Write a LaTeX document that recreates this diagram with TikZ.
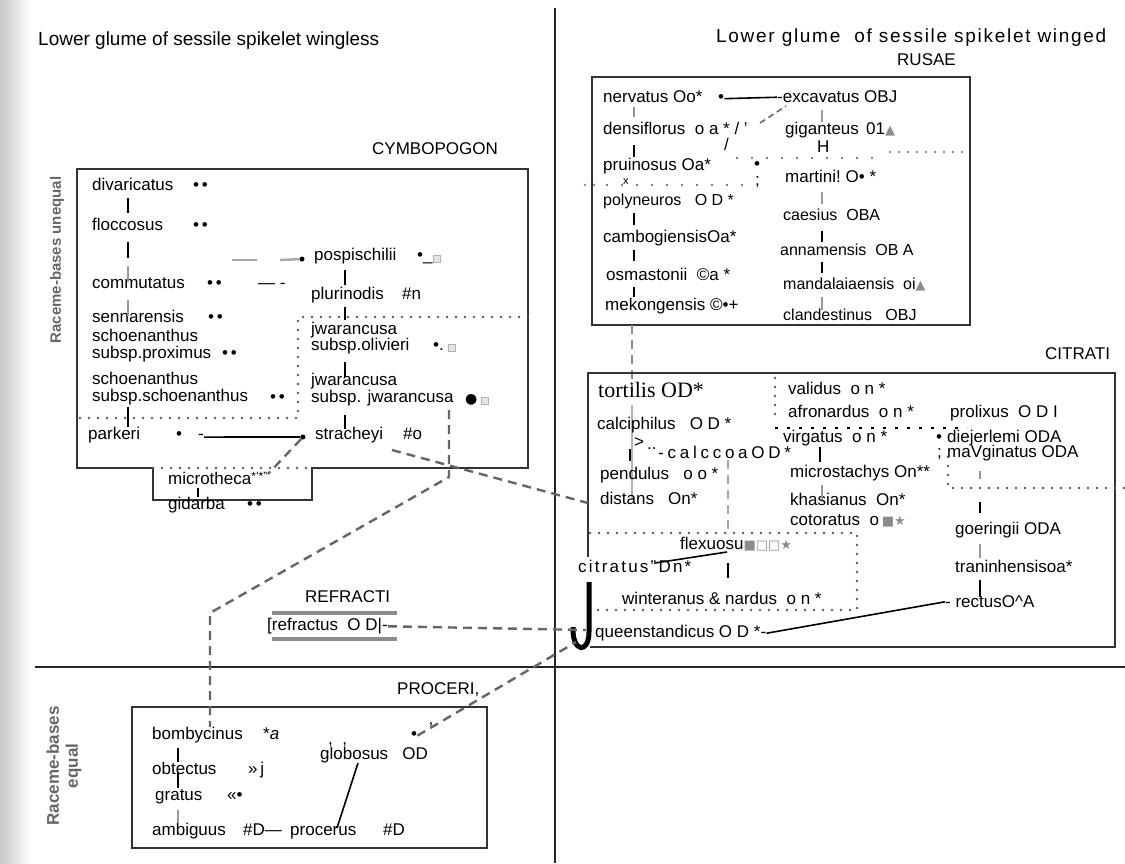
\documentclass[tikz,border=0pt]{standalone}
\usepackage{fontspec}
\setmainfont{Liberation Sans}
\newfontfamily\symf{DejaVu Sans}
\newfontfamily\serf{Liberation Serif}
\newcommand\fs{\fontsize{17}{20}\selectfont}
\newcommand\gs[1]{{\color{black!45}\symf\fontsize{13}{14}\selectfont #1}}
\begin{document}
\begin{tikzpicture}[x=1pt,y=-1pt,
  tx/.style={anchor=mid west,inner sep=0pt,font=\fs},
  nar/.style={anchor=mid west,inner sep=0pt,font=\fontsize{16}{18}\selectfont},
  lbl/.style={anchor=mid west,inner sep=0pt,font=\fontsize{17}{20}\selectfont},
  bx/.style={draw=black!80,line width=2.8pt},
  axl/.style={draw=black!85,line width=2.2pt},
  vbar/.style={line width=2.6pt,black},
  gbar/.style={line width=2.6pt,black!40},
  thinl/.style={line width=1.2pt,black},
  ln/.style={line width=1.6pt,black},
  dotl/.style={line width=2.6pt,black!65,dash pattern=on 0pt off 9pt,line cap=round},
  fdot/.style={line width=1.8pt,black,dash pattern=on 0pt off 15pt,line cap=round},
  dsh/.style={line width=2.4pt,black!60,dash pattern=on 9pt off 6pt},
  dotn/.style={circle,fill=black,inner sep=0pt,minimum size=5pt},
  sq/.style={draw=black!30,fill=black!10,inner sep=0pt,minimum size=7pt},
  axt/.style={font=\bfseries\fontsize{15}{18}\selectfont,text=black!60,rotate=90,align=center}]
\fill[white] (0,0) rectangle (1125,863);
\useasboundingbox (0,0) rectangle (1125,863);
\shade[left color=black!22,right color=white] (0,0) rectangle (30,863);

% axes
\coordinate (vt) at (555,8); \coordinate (vb) at (555,863);
\coordinate (hl) at (35,667); \coordinate (hr) at (1125,667);
\draw[axl] (vt) -- (vb);
\draw[axl] (hl) -- (hr);

% headers
\node[tx,font=\fontsize{19}{22}\selectfont] (hL) at (38,43) {Lower glume of sessile spikelet wingless};
\node[tx,font=\fontsize{19}{22}\selectfont\addfontfeature{LetterSpace=9}] (hR) at (716,40) {Lower glume\ \ of sessile spikelet winged};
\node[axt] (ax1) at (57,260) {Raceme-bases unequal};
\node[axt,font=\bfseries\fontsize{17}{19}\selectfont] (ax2) at (64,766) {Raceme-bases\\equal};

% ================= CYMBOPOGON =================
\node[lbl] (lCym) at (372,152) {CYMBOPOGON};
\draw[bx] (153,468) -- (77,468) -- (77,169) -- (528,169) -- (528,468) -- (312,468) -- (312,500) -- (153,500) -- cycle;
\draw[dotl] (153,468) -- (312,468);
\draw[dotl] (80,418) -- (298,418) -- (298,317) -- (528,317);

\node[tx] (div) at (92,188) {divaricatus};   \node[tx] (divs) at (193,188) {•\,•};
\node[tx] (flo) at (92,228) {floccosus};     \node[tx] (flos) at (193,228) {•\,•};
\node[tx] (com) at (92,286) {commutatus};    \node[tx] (coms) at (207,286) {•\,•};
\node[tx] (sen) at (92,320) {sennarensis};   \node[tx] (sens) at (208,320) {•\,•};
\node[tx] (sch1) at (92,339) {schoenanthus};
\node[tx] (prox) at (92,356) {subsp.proximus}; \node[tx] (proxs) at (222,356) {•\,•};
\node[tx] (sch2) at (92,382) {schoenanthus};
\node[tx] (ssch) at (92,399) {subsp.schoenanthus}; \node[tx] (sschs) at (270,400) {•\,•};
\node[tx] (par) at (88,437) {parkeri}; \node[tx] (pars) at (176,437) {•}; \node[tx] (pard) at (198,437) {-};
\node[dotn] (stdot) at (303,437) {};
\draw[ln] (pard.east) -- (stdot);
\node[tx] (str) at (315,437) {stracheyi}; \node[tx] (strs) at (403,437) {\#o};

\node[dotn] (posdot) at (302,259) {};
\node[tx] (pos) at (314,258) {pospischilii}; \node[tx] (poss) at (417,258) {•\_};
\node[sq] (possq) at (437,259) {};
\coordinate (g1) at (232,260); \coordinate (g2) at (257,260); \coordinate (g3) at (280,260);
\draw[line width=2.4pt,black!35] (g1) -- (g2);
\draw[line width=2.4pt,black!35] (g3) -- (posdot);
\node[tx] (dashm) at (258,286) {— -};
\node[tx] (plu) at (311,297) {plurinodis}; \node[tx] (plus) at (402,297) {\#n};
\node[tx] (jw1) at (311,332) {jwarancusa};
\node[tx] (oli) at (311,348) {subsp.olivieri}; \node[tx] (olis) at (433,348) {•.};
\node[sq] (olisq) at (452,348) {};
\node[tx] (jw2) at (311,383) {jwarancusa};
\node[tx] (jwj) at (311,400) {subsp. jwarancusa};
\node[tx,font=\symf\fontsize{14}{16}\selectfont] (jwjs) at (465,401) {●};
\node[sq] (jwjsq) at (485,401) {};

\coordinate (xc) at (128,0); \coordinate (xp) at (345,0);
\draw[vbar] (xc |- 0,198) -- (xc |- 0,213);
\draw[vbar] (xc |- 0,242) -- (xc |- 0,258);
\draw[gbar] (xc |- 0,266) -- (xc |- 0,282);
\draw[gbar] (xc |- 0,300) -- (xc |- 0,316);
\draw[vbar] (xc |- 0,407) -- (xc |- 0,427);
\draw[vbar] (xp |- 0,270) -- (xp |- 0,285);
\draw[vbar] (xp |- 0,307) -- (xp |- 0,320);
\draw[vbar] (xp |- 0,362) -- (xp |- 0,377);
\draw[vbar] (xp |- 0,415) -- (xp |- 0,429);

\node[tx] (mic) at (168,482) {microtheca\raisebox{4pt}{\fontsize{12}{13}\selectfont *'*"}};
\node[tx] (gid) at (168,507) {gidarba}; \node[tx] (gids) at (247,507) {•\,•};
\draw[line width=1.6pt] (198,488) -- (198,497);

% dashed connectors (left)
\coordinate (j1) at (449,410); \coordinate (j2) at (449,477); \coordinate (j3) at (210,613);
\coordinate (mt) at (268,474);
\coordinate (s1) at (392,450); \coordinate (s2) at (588,503);

% ================= RUSAE =================
\node[lbl] (lRus) at (897,63) {RUSAE};
\draw[bx] (592,77) rectangle (970,325);
\node[tx] (ner) at (603,100) {nervatus Oo*};
\node[tx] (nerd) at (718,100) {•};
\node[tx] (exc) at (777,100) {-excavatus}; \node[tx] (excs) at (864,100) {OBJ};
\draw[ln] (nerd.east) -- (exc.west);
\node[tx] (den) at (603,132) {densiflorus\ \ o a * / '};
\node[tx] (gig) at (785,132) {giganteus}; \node[tx] (gigs) at (866,132) {01\gs{▲}};
\coordinate (dd1) at (760,123); \coordinate (dd2) at (786,106);
\draw[line width=1.6pt,black!60,dash pattern=on 6pt off 4pt] (dd1) -- (dd2);
\node[tx] (sl) at (724,148) {/};
\node[tx] (hh) at (817,150) {H};
\coordinate (fd1) at (737,158); \coordinate (fd2) at (884,158);
\draw[fdot] (fd1) -- (fd2);
\coordinate (gd1) at (890,152); \coordinate (gd2) at (970,152);
\draw[dotl,black!45] (gd1) -- (gd2);
\node[tx] (pru) at (603,168) {pruinosus Oa*};
\node[tx,font=\fontsize{11}{12}\selectfont] (prx) at (623,182) {x};
\node[tx] (prud) at (754,167) {•};
\node[tx] (prus) at (755,183) {;};
\coordinate (pd1) at (607,185); \coordinate (pd2) at (747,185);
\draw[fdot] (pd1) -- (pd2);
\coordinate (pd0) at (585,185);
\draw[dotl,black!45] (pd0) -- (602,185);
\node[tx] (mar) at (785,180) {martini!\ O• *};
\node[nar] (pol) at (603,203) {polyneuros\ \ \ O D *};
\node[nar] (cae) at (783,218) {caesius\ \ OBA};
\node[tx] (cam) at (603,240) {cambogiensisOa*};
\node[nar] (ann) at (780,253) {annamensis\ \ OB A};
\node[tx] (osm) at (606,278) {osmastonii\ \ ©a *};
\node[nar] (man) at (783,287) {mandalaiaensis\ \ oi\gs{▲}};
\node[tx] (mek) at (605,308) {mekongensis ©•+};
\node[nar] (cla) at (783,318) {clandestinus\ \ \ OBJ};
\coordinate (xr) at (634,0); \coordinate (xs) at (822,0);
\draw[gbar] (xr |- 0,107) -- (xr |- 0,117);
\draw[thinl] (xr |- 0,145) -- (xr |- 0,157);
\draw[thinl] (xr |- 0,213) -- (xr |- 0,225);
\draw[thinl] (xr |- 0,250) -- (xr |- 0,261);
\draw[thinl] (xr |- 0,287) -- (xr |- 0,297);
\draw[gbar] (xs |- 0,110) -- (xs |- 0,122);
\draw[gbar] (xs |- 0,192) -- (xs |- 0,204);
\draw[thinl] (xs |- 0,231) -- (xs |- 0,242);
\draw[thinl] (xs |- 0,262) -- (xs |- 0,273);
\draw[gbar] (xs |- 0,297) -- (xs |- 0,310);
\coordinate (mk1) at (632,325); \coordinate (mk2) at (632,392);
\draw[dsh,black!45] (mk1) -- (mk2);
\draw[line width=1.2pt,black!30] (632,405) -- (632,500);

% ================= CITRATI =================
\node[lbl] (lCit) at (1045,357) {CITRATI};
\draw[bx] (588,557) -- (588,373) -- (1115,373) -- (1115,647) -- (590,647);
\draw[dotl] (775,378) -- (775,422);
\coordinate (fa) at (775,428); \coordinate (fb) at (967,428);
\draw[line width=1.6pt,black,dash pattern=on 3pt off 9pt] (fa) -- (fb);
\draw[dotl] (590,533) -- (857,533) -- (857,610) -- (590,610);
\draw[dotl] (948,457) -- (948,488) -- (1125,488);
\draw[dsh,black!35] (728,460) -- (728,533);

\node[tx,font=\serf\fontsize{22}{24}\selectfont] (tor) at (598,395) {tortilis OD*};
\node[tx] (cal) at (597,427) {calciphilus\ \ \ O D *};
\node[tx] (gt) at (634,445) {>};
\node[tx] (gtd) at (647,447) {..};
\draw[thinl] (630,449) -- (630,461);
\node[tx,font=\fs\addfontfeature{LetterSpace=22}] (cco) at (658,456) {-calccoaOD*};
\node[tx] (pen) at (600,477) {pendulus\ \ \ o o *};
\node[tx] (dis) at (600,502) {distans\ \ \ On*};
\node[tx] (val) at (788,392) {validus\ \ o n *};
\node[tx] (afr) at (788,415) {afronardus\ \ o n *};
\node[tx] (pro) at (950,415) {prolixus\ \ O D I};
\node[tx] (vir) at (783,440) {virgatus\ \ o n *};
\node[tx] (died) at (936,440) {•};
\node[tx] (die) at (947,440) {diejerlemi ODA};
\node[tx] (semi) at (937,455) {;};
\node[tx] (mav) at (947,455) {maVginatus ODA};
\node[tx] (mic2) at (790,475) {microstachys On**};
\node[tx] (kha) at (790,503) {khasianus\ \ On*};
\node[tx] (cot) at (790,523) {cotoratus\ \ o\,\gs{■★}};
\node[tx] (goe) at (955,532) {goeringii ODA};
\node[tx] (tra) at (955,570) {traninhensisoa*};
\node[tx] (rec) at (945,605) {- rectusO\textasciicircum A};
\node[tx] (fle) at (680,547) {flexuosu\gs{■□□★}};
\node[tx,font=\fs\addfontfeature{LetterSpace=13}] (cit) at (578,570) {citratus"Dn*};
\node[tx] (win) at (622,602) {winteranus \& nardus\ \ o n *};
\node[tx] (que) at (595,635) {queenstandicus O D *-};

\draw[thinl] (820,447) -- (820,462);
\draw[gbar] (822,485) -- (822,500);
\coordinate (xg) at (980,0);
\draw[gbar] (xg |- 0,471) -- (xg |- 0,479);
\draw[thinl] (xg |- 0,502) -- (xg |- 0,513);
\draw[gbar] (xg |- 0,544) -- (xg |- 0,558);
\draw[thinl] (xg |- 0,580) -- (xg |- 0,597);
\draw[thinl] (728,563) -- (728,578);
\coordinate (fl1) at (655,563); \coordinate (fl2) at (727,552);
\draw[ln] (fl1) -- (fl2);
\draw[ln] (rec.west) -- (que.east);
\draw[line width=5pt,black] (589,582) -- (589,632) .. controls (589,654) and (572,653) .. (573,627);
\coordinate (jb) at (576,642); \coordinate (jm) at (586,630);

% ================= REFRACTI =================
\node[lbl] (lRef) at (305,600) {REFRACTI};
\draw[line width=3.5pt,black!45] (272,613) -- (397,613);
\node[tx] (ref) at (267,628) {[refractus\ \ O D|-};
\draw[line width=3.5pt,black!45] (272,639) -- (397,639);
\draw[dsh] (ref.east) -- (jm);

% ================= PROCERI =================
\node[lbl] (lPro) at (397,692) {PROCERI,};
\draw[bx] (132,707) rectangle (487,848);
\node[tx] (bom) at (152,737) {bombycinus}; \node[tx] (boms) at (263,737) {*\textit{a}};
\node[tx] (cm2) at (328,742) {,\ \ ,};
\node[tx] (prd) at (411,737) {•}; \node[tx] (prq) at (429,732) {'};
\node[tx] (glo) at (320,757) {globosus\ \ \ OD};
\node[tx] (obt) at (152,772) {obtectus}; \node[tx] (obts) at (248,772) {»\,j};
\node[tx] (gra) at (155,798) {gratus}; \node[tx] (gras) at (227,798) {«•};
\node[tx] (amb) at (152,833) {ambiguus}; \node[tx] (ambs) at (243,833) {\#D—};
\node[tx] (proc) at (290,833) {procerus}; \node[tx] (procs) at (383,833) {\#D};
\draw[vbar] (178,748) -- (178,762);
\draw[thinl] (178,773) -- (178,788);
\draw[gbar] (178,810) -- (178,823);
\coordinate (gl1) at (358,763); \coordinate (gl2) at (337,828);
\draw[ln] (gl1) -- (gl2);

% dashed connectors
\draw[dsh] (j1) -- (j2) -- (j3) -- (j3 |- bom.north);
\draw[dsh] (stdot) -- (mt);
\draw[dsh] (s1) -- (s2);
\draw[dsh] (prd.east) -- (jb);
\end{tikzpicture}
\end{document}
